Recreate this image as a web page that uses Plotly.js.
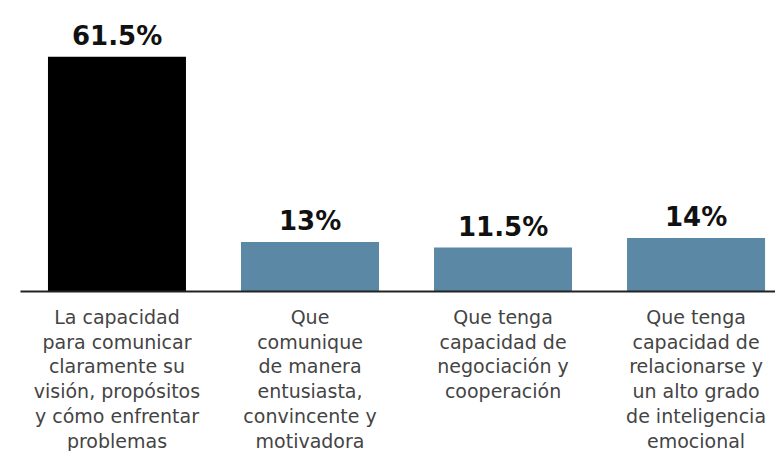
<!DOCTYPE html>
<html>
<head>
<meta charset="utf-8">
<script src="https://cdn.plot.ly/plotly-3.0.1.min.js"></script>
<style>html,body{margin:0;padding:0;background:#fff;}#chart{width:775px;height:451px;}</style>
</head>
<body>
<div id="chart"></div>
<script>
const categories = [
  "La capacidad<br>para comunicar<br>claramente su<br>visión, propósitos<br>y cómo enfrentar<br>problemas",
  "Que<br>comunique<br>de manera<br>entusiasta,<br>convincente y<br>motivadora",
  "Que tenga<br>capacidad de<br>negociación y<br>cooperación",
  "Que tenga<br>capacidad de<br>relacionarse y<br>un alto grado<br>de inteligencia<br>emocional"
];
const values = [61.5, 13, 11.5, 14];
const valueLabels = ["61.5%", "13%", "11.5%", "14%"];
const barColors = ["#000000", "#5b88a5", "#5b88a5", "#5b88a5"];

const idx = categories.map((_, i) => i);

const trace = {
  type: "bar",
  x: idx,
  y: values,
  marker: {color: barColors, line: {width: 0}},
  hoverinfo: "none"
};

const annotations = values.map((v, i) => ({
  x: i, y: v, xref: "x", yref: "y",
  text: "<b>" + valueLabels[i] + "</b>",
  showarrow: false, yanchor: "bottom", yshift: 4,
  font: {family: "DejaVu Sans", size: 26, color: "#111"}
}));

const layout = {
  width: 775, height: 451,
  margin: {l: 0, r: 0, t: 0, b: 157.5},
  paper_bgcolor: "#fff", plot_bgcolor: "#fff",
  bargap: 0.285,
  showlegend: false,
  xaxis: {
    range: [-0.606, 3.409],
    tickmode: "array", tickvals: idx, ticktext: categories,
    showgrid: false, zeroline: false, showline: false, ticks: "",
    ticklabelstandoff: 11,
    tickfont: {family: "DejaVu Sans", size: 19, color: "#444"},
    fixedrange: true
  },
  yaxis: {
    range: [-0.4, 76.4],
    visible: false, showgrid: false, zeroline: false, fixedrange: true
  },
  shapes: [{
    type: "line", xref: "x", yref: "y",
    x0: -0.5, x1: 3.6, y0: 0, y1: 0,
    line: {color: "#222", width: 2}
  }],
  annotations: annotations
};

Plotly.newPlot("chart", [trace], layout, {displayModeBar: false, staticPlot: true});
</script>
</body>
</html>
